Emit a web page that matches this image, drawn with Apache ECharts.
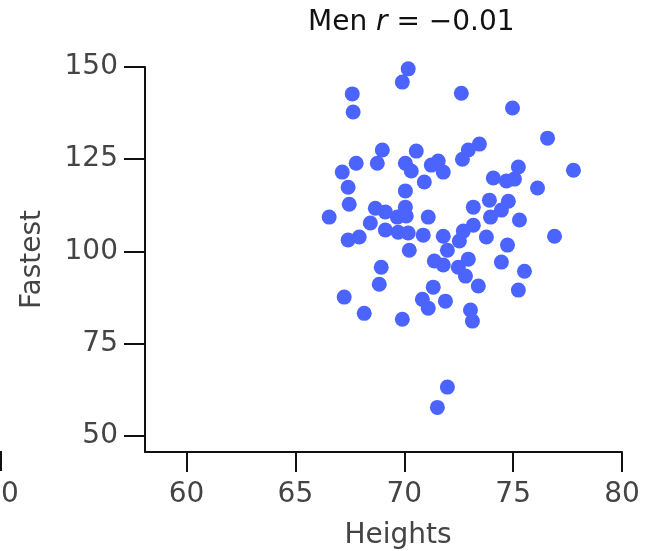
<!DOCTYPE html>
<html><head><meta charset="utf-8">
<script src="https://cdn.jsdelivr.net/npm/echarts@6/dist/echarts.min.js"></script>
<style>html,body{margin:0;padding:0;background:#fff}#c{width:648px;height:551px}</style>
</head><body><div id="c"></div>
<script>
const heights = [70.18,69.91,67.61,67.65,72.62,74.97,76.58,77.77,73.45,72.94,72.67,68.99,68.76,70.55,70.05,70.32,67.79,67.15,67.42,67.47,66.55,71.24,71.56,71.79,70.92,70.05,74.09,74.69,75.06,75.24,76.12,73.91,74.78,74.46,73.96,73.17,75.29,76.90,68.67,69.13,70.05,69.68,70.09,71.10,68.44,69.13,69.72,70.18,70.87,71.79,72.71,73.17,73.77,72.53,74.74,67.42,67.93,70.23,71.98,71.38,71.79,72.48,72.94,72.81,73.40,74.46,75.52,75.24,68.94,68.85,67.24,68.16,69.91,71.33,70.83,71.10,71.89,73.04,73.13,71.98,71.52];
const fastest = [149.5,145.9,142.7,137.8,142.9,138.9,130.7,122.0,129.1,127.5,125.0,127.5,123.9,127.2,123.9,121.8,123.9,121.5,117.4,112.8,109.3,123.4,124.5,121.5,118.8,116.4,119.9,119.1,119.6,122.9,117.2,113.9,113.6,111.2,109.3,112.0,108.5,104.1,111.7,110.7,112.0,109.3,109.6,109.3,107.7,105.8,105.2,105.0,104.4,104.1,105.5,107.1,103.9,102.8,101.7,103.1,103.9,100.3,100.3,97.4,96.3,95.7,97.9,93.3,90.6,97.1,94.6,89.5,95.7,91.1,87.6,83.2,81.6,90.3,87.0,84.6,86.5,84.1,81.1,63.2,57.7];
const xTicks = [60,65,70,75,80];
const yTicks = [50,75,100,125,150];

const points = heights.map((h,i)=>[h,fastest[i]]);
const FONT = 'DejaVu Sans';
const chart = echarts.init(document.getElementById('c'));
chart.setOption({
  animation:false,
  backgroundColor:'#fff',
  title:{
    left:303, top:4,
    text:'{a|Men }{i|r}{a| = \u22120.01}',
    textStyle:{fontWeight:'normal',rich:{
      a:{fontFamily:FONT,fontSize:28,color:'#111',fontWeight:'normal'},
      i:{fontFamily:FONT,fontSize:28,color:'#111',fontStyle:'italic',fontWeight:'normal'}
    }}
  },
  grid:{left:145,right:26,top:67,bottom:99,containLabel:false,outerBoundsMode:'none'},
  xAxis:{
    type:'value',min:58.09,max:80,
    name:'Heights',nameLocation:'middle',nameGap:70,
    nameTextStyle:{fontFamily:FONT,fontSize:28,color:'#444',padding:[0,0,0,29]},
    axisLine:{show:true,lineStyle:{color:'#111',width:2}},
    axisTick:{show:true,inside:false,length:20,lineStyle:{color:'#111',width:2},customValues:xTicks},
    axisLabel:{fontFamily:FONT,fontSize:28,color:'#444',margin:29,customValues:xTicks,formatter:v=>String(v)},
    splitLine:{show:false}
  },
  yAxis:{
    type:'value',min:45.6,max:150,
    name:'Fastest',nameLocation:'middle',nameGap:98,
    nameTextStyle:{fontFamily:FONT,fontSize:28,color:'#444'},
    axisLine:{show:true,lineStyle:{color:'#111',width:2}},
    axisTick:{show:true,inside:false,length:21,lineStyle:{color:'#111',width:2},customValues:yTicks},
    axisLabel:{fontFamily:FONT,fontSize:28,color:'#444',margin:27,customValues:yTicks,formatter:v=>String(v)},
    splitLine:{show:false}
  },
  graphic:[
    {type:'line',shape:{x1:1,y1:451,x2:1,y2:471},style:{stroke:'#111',lineWidth:2}},
    {type:'text',x:1,y:481,style:{text:'50',fontFamily:FONT,fontSize:28,fill:'#444',align:'center',verticalAlign:'top'}}
  ],
  series:[{
    type:'scatter',data:points,symbol:'circle',symbolSize:15,
    itemStyle:{color:'#4B63FF',opacity:1}
  }]
});
</script></body></html>
